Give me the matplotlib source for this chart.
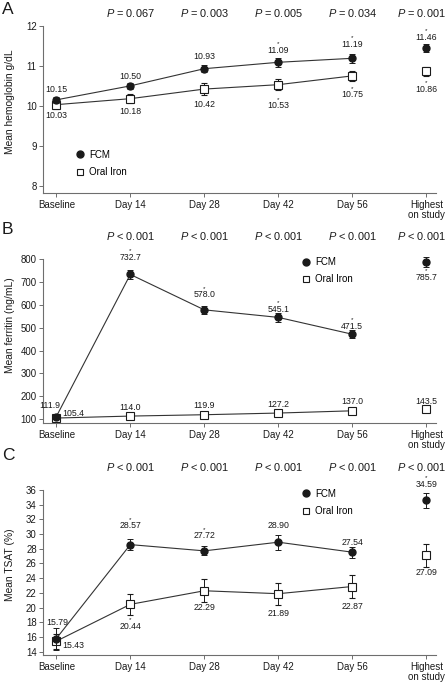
"""Three-panel figure: hemoglobin, ferritin and TSAT over time, FCM vs oral iron."""

import matplotlib

matplotlib.use("Agg")

import matplotlib.pyplot as plt
from matplotlib.lines import Line2D

plt.rcParams["font.family"] = ["Liberation Sans", "DejaVu Sans"]
plt.rcParams["mathtext.fontset"] = "custom"
plt.rcParams["mathtext.it"] = "Liberation Sans:italic"
plt.rcParams["mathtext.rm"] = "Liberation Sans"

# ---- data ---------------------------------------------------------------
visits = ["Baseline", "Day 14", "Day 28", "Day 42", "Day 56", "Highest\non study"]

hgb_fcm = [10.15, 10.50, 10.93, 11.09, 11.19, 11.46]
hgb_fcm_se = [0.08, 0.07, 0.09, 0.11, 0.11, 0.10]
hgb_oral = [10.03, 10.18, 10.42, 10.53, 10.75, 10.86]
hgb_oral_se = [0.10, 0.12, 0.14, 0.13, 0.13, 0.12]
hgb_p = ["", "= 0.067", "= 0.003", "= 0.005", "= 0.034", "= 0.001"]
hgb_fcm_star = [0, 0, 0, 1, 1, 1]
hgb_oral_star = [0, 0, 0, 1, 1, 1]

fer_fcm = [111.9, 732.7, 578.0, 545.1, 471.5, 785.7]
fer_fcm_se = [8, 21, 17, 18, 18, 22]
fer_oral = [105.4, 114.0, 119.9, 127.2, 137.0, 143.5]
fer_oral_se = [7, 6, 6, 6, 7, 7]
fer_p = ["", "< 0.001", "< 0.001", "< 0.001", "< 0.001", "< 0.001"]
fer_fcm_star = [0, 1, 1, 1, 1, 1]
fer_oral_star = [0, 0, 0, 0, 0, 0]

tsat_fcm = [15.79, 28.57, 27.72, 28.90, 27.54, 34.59]
tsat_fcm_se = [1.5, 0.8, 0.63, 1.0, 0.75, 1.0]
tsat_oral = [15.43, 20.44, 22.29, 21.89, 22.87, 27.09]
tsat_oral_se = [1.0, 1.47, 1.56, 1.47, 1.6, 1.5]
tsat_p = ["", "< 0.001", "< 0.001", "< 0.001", "< 0.001", "< 0.001"]
tsat_fcm_star = [0, 1, 1, 0, 0, 1]
tsat_oral_star = [0, 1, 0, 0, 0, 0]

# ---- label offsets (pixels) --------------------------------------------
hgb_fcm_off = [(0, 10), (0, 9), (0, 12), (0, 12), (0, 14), (0, 10)]
hgb_oral_off = [(0, -11), (0, -13), (0, -15), (0, -21), (0, -19), (0, -18)]
fer_fcm_off = [(-7, 11), (0, 17), (0, 15), (0, 8), (0, 8), (0, -15)]
fer_oral_off = [(17, 5), (0, 9), (0, 9), (0, 9), (0, 9), (0, 8)]
tsat_fcm_off = [(1, 16), (0, 19), (0, 15), (0, 17), (0, 10), (0, 16)]
tsat_oral_off = [(17, -4), (0, -22), (0, -17), (0, -20), (0, -20), (0, -17)]

INK = "#1a1a1a"
SPINE = "#6e6e6e"
x = list(range(len(visits)))


def panel(ax, fcm, fcm_se, oral, oral_se, fmt, fcm_off, oral_off,
          fcm_star, oral_star, pvals, p_y, ylim, yticks, ylabel, label_y,
          legend_xy):
    ax.plot(x[:5], fcm[:5], color="#333333", lw=0.8, zorder=2)
    ax.plot(x[:5], oral[:5], color="#333333", lw=0.8, zorder=2)
    ax.errorbar(x, oral, yerr=oral_se, fmt="s", ms=5.2, mfc="white", mec=INK,
                mew=0.8, ecolor=INK, elinewidth=0.7, capsize=2.2, capthick=0.7,
                zorder=3, clip_on=False)
    ax.errorbar(x, fcm, yerr=fcm_se, fmt="o", ms=5, mfc=INK, mec=INK,
                ecolor=INK, elinewidth=0.7, capsize=2.2, capthick=0.7,
                zorder=4, clip_on=False)
    for vals, offs, stars in ((fcm, fcm_off, fcm_star), (oral, oral_off, oral_star)):
        for i, (v, (dx, dy), s) in enumerate(zip(vals, offs, stars)):
            ax.annotate(fmt.format(v), (i, v), xytext=(dx, dy),
                        textcoords="offset pixels", ha="center", va="center",
                        fontsize=6.3, color=INK, zorder=5)
            if s:
                ax.annotate("*", (i, v), xytext=(dx, dy + 6.5),
                            textcoords="offset pixels", ha="center",
                            va="center", fontsize=4.5, color=INK)
    last = len(pvals) - 1
    for i, p in enumerate(pvals):
        if not p:
            continue
        # the last column sits flush against the right edge of the figure
        ha, dx = ("right", 20) if i == last else ("center", 0)
        ax.annotate(f"$P$ {p}", (i, p_y), xycoords=ax.get_xaxis_transform(),
                    xytext=(dx, 0), textcoords="offset pixels",
                    ha=ha, va="center", fontsize=7.9, color=INK)

    ax.set_xlim(-0.18, 5.13)
    ax.set_ylim(*ylim)
    ax.set_yticks(yticks)
    ax.set_xticks(x)
    ax.set_xticklabels(visits, fontsize=7, color=INK, linespacing=1.05)
    ax.tick_params(axis="y", labelsize=6.9, labelcolor=INK, length=3,
                   width=0.7, color=SPINE, pad=1.5)
    ax.tick_params(axis="x", length=3, width=0.7, color=SPINE, pad=2)
    for side in ("top", "right"):
        ax.spines[side].set_visible(False)
    for side in ("left", "bottom"):
        ax.spines[side].set_color(SPINE)
        ax.spines[side].set_linewidth(0.8)
    ax.spines["left"].set_bounds(ylim[0], yticks[-1])
    ax.set_ylabel(ylabel, fontsize=7.4, color=INK)
    ax.yaxis.set_label_coords(-0.071, label_y)

    handles = [
        Line2D([], [], ls="none", marker="o", ms=5, mfc=INK, mec=INK),
        Line2D([], [], ls="none", marker="s", ms=5, mfc="white", mec=INK, mew=0.8),
    ]
    ax.legend(handles, ["FCM", "Oral Iron"], loc="upper left",
              bbox_to_anchor=legend_xy, frameon=False, fontsize=7,
              handlelength=1.0, handletextpad=0.4, borderpad=0,
              borderaxespad=0, labelspacing=0.75)


fig = plt.figure(figsize=(4.48, 6.86), dpi=100)
axA = fig.add_axes([0.096, 0.7187, 0.877, 0.2435])
axB = fig.add_axes([0.096, 0.3838, 0.877, 0.2386])
axC = fig.add_axes([0.096, 0.0452, 0.877, 0.2405])

panel(axA, hgb_fcm, hgb_fcm_se, hgb_oral, hgb_oral_se, "{:.2f}",
      hgb_fcm_off, hgb_oral_off, hgb_fcm_star, hgb_oral_star, hgb_p, 1.078,
      (7.82, 12), [8, 9, 10, 11, 12], "Mean hemoglobin g/dL", 0.545,
      (0.082, 0.258))
panel(axB, fer_fcm, fer_fcm_se, fer_oral, fer_oral_se, "{:.1f}",
      fer_fcm_off, fer_oral_off, fer_fcm_star, fer_oral_star, fer_p, 1.142,
      (85, 800), list(range(100, 801, 100)), "Mean ferritin (ng/mL)", 0.597,
      (0.657, 1.012))
panel(axC, tsat_fcm, tsat_fcm_se, tsat_oral, tsat_oral_se, "{:.2f}",
      tsat_fcm_off, tsat_oral_off, tsat_fcm_star, tsat_oral_star, tsat_p, 1.139,
      (13.55, 36), list(range(14, 37, 2)), "Mean TSAT (%)", 0.55,
      (0.657, 1.008))

for letter, ypix in (("A", 10), ("B", 230), ("C", 455)):
    fig.text(0.004, 1 - ypix / 686, letter, fontsize=12.5, va="center",
             ha="left", color=INK)

fig.savefig("out.png", dpi=100)
